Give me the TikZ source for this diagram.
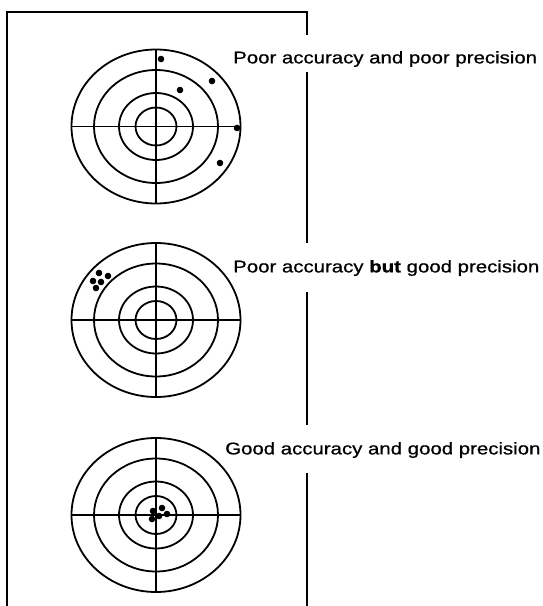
\documentclass[tikz,border=0pt]{standalone}
\usepackage{fontspec}
\setmainfont[FakeStretch=1.2,FakeBold=0.8]{Liberation Sans}
\begin{document}
\begin{tikzpicture}[x=1pt,y=-1pt,
  frameline/.style={line width=1.9pt},
  ring/.style={line width=1.8pt},
  cross/.style={line width=1.2pt},
  shot/.style={fill=black},
  caption/.style={anchor=west,inner sep=0pt,font=\fontsize{17}{20}\selectfont},
  bullseye/.pic={
    \draw[cross] (-84.5,0) -- (84.5,0);
    \draw[cross] (0,-77) -- (0,77);
    \draw[ring] (0,0) ellipse [x radius=84.5, y radius=77];
    \draw[ring] (0,0) ellipse [x radius=62, y radius=56.5];
    \draw[ring] (0,0) ellipse [x radius=37, y radius=33.5];
    \draw[ring] (0,0) ellipse [x radius=20.5, y radius=19];
  }]
\useasboundingbox (0,0) rectangle (542,606);
% frame
\draw[frameline] (7,606) -- (7,12) -- (307,12) -- (307,35);
\draw[frameline] (307,72) -- (307,243);
\draw[frameline] (307,292) -- (307,425);
\draw[frameline] (307,473) -- (307,606);
% targets
\pic at (156,126.5) {bullseye};
\pic at (156,320) {bullseye};
\pic at (156,515) {bullseye};
% shots, target 1
\begin{scope}[shift={(156,126.5)}]
  \foreach \p in {(5,-67.5),(56,-45.5),(24,-36.5),(81,1.5),(64,36.5)}
    \fill[shot] \p circle (3.3);
\end{scope}
% shots, target 2
\begin{scope}[shift={(156,320)}]
  \foreach \p in {(-57,-47),(-48,-44),(-63,-39),(-55,-38),(-60,-32)}
    \fill[shot] \p circle (3.3);
\end{scope}
% shots, target 3
\begin{scope}[shift={(156,515)}]
  \foreach \p in {(-3,-4),(6,-7),(3,1),(11,-1),(-4,4)}
    \fill[shot] \p circle (3.3);
\end{scope}
% captions
\node[caption] (c1) at (233,59) {Poor accuracy and poor precision};
\node[caption] (c2) at (233,268) {Poor accuracy \textbf{but} good precision};
\node[caption] (c3) at (225,450) {Good accuracy and good precision};
\end{tikzpicture}
\end{document}
